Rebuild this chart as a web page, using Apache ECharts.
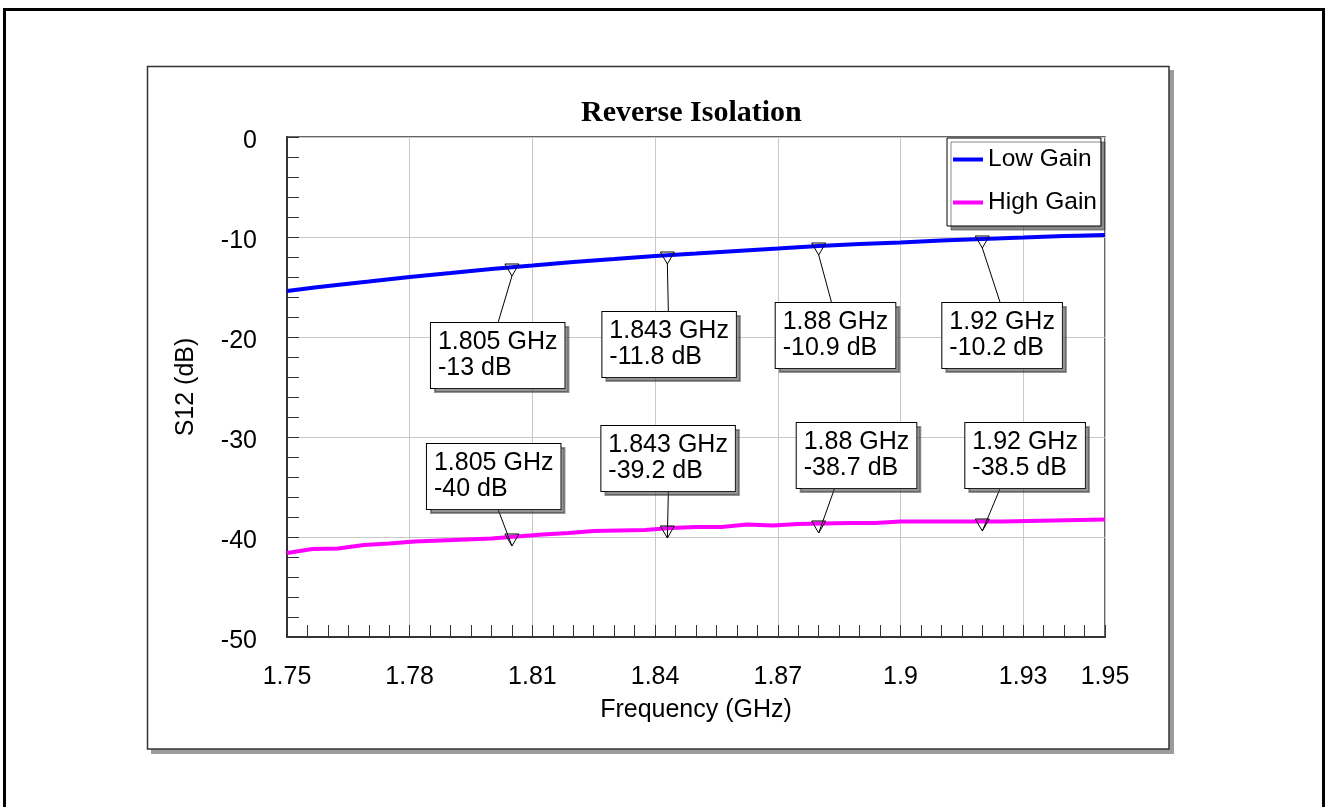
<!DOCTYPE html>
<html>
<head>
<meta charset="utf-8">
<script src="https://cdn.jsdelivr.net/npm/echarts@6/dist/echarts.min.js"></script>
<style>
html,body{margin:0;padding:0;background:#fff;}
#chart{width:1330px;height:807px;}
</style>
</head>
<body>
<div id="chart"></div>
<script>
// ---------------- data ----------------
const chartTitle = 'Reverse Isolation';
const xAxisName = 'Frequency (GHz)';
const yAxisName = 'S12 (dB)';
const seriesNames = ['Low Gain', 'High Gain'];

const xTickLabels = [1.75, 1.78, 1.81, 1.84, 1.87, 1.9, 1.93, 1.95];
const yTickLabels = [0, -10, -20, -30, -40, -50];

const lowGainFreq = [1.75, 1.76, 1.77, 1.78, 1.79, 1.80, 1.81, 1.82, 1.83, 1.84, 1.85,
  1.86, 1.87, 1.88, 1.89, 1.90, 1.91, 1.92, 1.93, 1.94, 1.95];
const lowGainDb = [-15.4, -14.9, -14.45, -14.0, -13.6, -13.2, -12.85, -12.5, -12.2, -11.9, -11.65,
  -11.4, -11.15, -10.9, -10.7, -10.55, -10.35, -10.2, -10.05, -9.9, -9.8];

const highGainFreq = [1.75, 1.7562, 1.7625, 1.7688, 1.775, 1.7812, 1.7875, 1.7938, 1.80, 1.8062,
  1.8125, 1.8188, 1.825, 1.8312, 1.8375, 1.8438, 1.85, 1.8562, 1.8625, 1.8688, 1.875, 1.8812,
  1.8875, 1.8938, 1.90, 1.9062, 1.9125, 1.9188, 1.925, 1.9312, 1.9375, 1.9438, 1.95];
const highGainDb = [-41.6, -41.2, -41.15, -40.8, -40.65, -40.45, -40.35, -40.25, -40.15, -39.95,
  -39.75, -39.6, -39.4, -39.35, -39.3, -39.1, -39.0, -39.0, -38.75, -38.85, -38.7, -38.65,
  -38.6, -38.6, -38.45, -38.45, -38.45, -38.45, -38.45, -38.4, -38.35, -38.3, -38.25];

const markerFreq = [1.805, 1.843, 1.88, 1.92];
const lowMarkerDb = [-13, -11.8, -10.9, -10.2];
const highMarkerDb = [-40, -39.2, -38.7, -38.5];

// ---------------- layout (pixel offsets of callout boxes, not data) ----------------
const lowCallout = [ {dx:-81, dy:56, lx:-14}, {dx:-65, dy:57, lx:1}, {dx:-43, dy:57, lx:13}, {dx:-40, dy:64, lx:18} ];
const highCallout = [ {dx:-85, dy:-93, lx:-14}, {dx:-66, dy:-103, lx:1}, {dx:-22, dy:-101, lx:16}, {dx:-17, dy:-99, lx:18} ];
const BOX_H = 65;

const FONT = "'Liberation Sans', Arial, sans-serif";

function zip(a, b) { return a.map((v, i) => [v, b[i]]); }

function calloutData(dbArr) {
  return markerFreq.map((f, i) => [f, dbArr[i]]);
}

function fmtNum(v) { return String(+(+v).toFixed(3)); }

function makeRender(layout) {
  return function (params, api) {
    const f = api.value(0), db = api.value(1);
    const p = api.coord([f, db]);
    const o = layout[params.dataIndex];
    const tip = [p[0], p[1] + 9];
    const endY = o.dy < 0 ? p[1] + o.dy + BOX_H : p[1] + o.dy;
    const text = fmtNum(f) + ' GHz\n' + fmtNum(db) + ' dB';
    return {
      type: 'group',
      children: [
        { type: 'line', shape: { x1: tip[0], y1: tip[1], x2: p[0] + o.lx, y2: endY },
          style: { stroke: '#000', lineWidth: 1 } },
        { type: 'text', x: p[0] + o.dx, y: p[1] + o.dy,
          style: { text: text, font: '25px ' + FONT, fill: '#000', lineHeight: 26,
            padding: [6, 7, 7, 7], backgroundColor: '#fff', borderColor: '#000', borderWidth: 1,
            shadowColor: 'rgba(60,60,60,0.55)', shadowOffsetX: 4, shadowOffsetY: 4, shadowBlur: 0,
            align: 'left', verticalAlign: 'top' } },
        { type: 'polygon', shape: { points: [[p[0] - 7, p[1] - 3], [p[0] + 7, p[1] - 3], [p[0], p[1] + 9]] },
          style: { fill: 'rgba(255,255,255,0)', stroke: '#000', lineWidth: 1 } }
      ]
    };
  };
}

const chart = echarts.init(document.getElementById('chart'), null, { renderer: 'canvas' });

const option = {
  backgroundColor: '#fff',
  animation: false,
  graphic: [
    { type: 'rect', z: -10, shape: { x: 4.5, y: 9.5, width: 1319, height: 900 },
      style: { fill: '#fff', stroke: '#000', lineWidth: 3 } },
    { type: 'rect', z: -9, shape: { x: 151, y: 70, width: 1023, height: 684 },
      style: { fill: '#9c9c9c' } },
    { type: 'rect', z: -8, shape: { x: 147.5, y: 66.5, width: 1021.5, height: 682.5 },
      style: { fill: '#fff', stroke: '#333', lineWidth: 1.5 } }
  ],
  title: {
    text: chartTitle,
    left: 581, top: 98, padding: 0,
    textStyle: { fontFamily: "'Liberation Serif', 'Times New Roman', serif", fontWeight: 'bold', fontSize: 30, color: '#000' }
  },
  legend: {
    data: seriesNames,
    orient: 'vertical',
    left: 947, top: 138,
    padding: [9, 4, 11, 6],
    itemGap: 18,
    icon: 'rect',
    itemWidth: 30, itemHeight: 4,
    backgroundColor: '#fff',
    borderColor: '#000', borderWidth: 1,
    shadowColor: 'rgba(60,60,60,0.6)', shadowOffsetX: 4, shadowOffsetY: 4, shadowBlur: 0,
    textStyle: { fontFamily: FONT, fontSize: 24.5, color: '#000' }
  },
  grid: {
    left: 287, top: 137, right: 225, bottom: 170,
    show: true, borderColor: '#333', borderWidth: 1.5, backgroundColor: 'transparent'
  },
  xAxis: [
    { // minor tick axis
      type: 'value', position: 'bottom', min: 1.75, max: 1.95, interval: 0.005,
      axisLine: { show: false, onZero: false }, axisLabel: { show: false }, splitLine: { show: false },
      axisTick: { show: true, inside: true, length: 12, lineStyle: { color: '#333', width: 1 } }
    },
    { // main axis
      type: 'value', position: 'bottom', min: 1.75, max: 1.95, interval: 0.03,
      name: xAxisName, nameLocation: 'middle', nameGap: 61,
      nameTextStyle: { fontFamily: FONT, fontSize: 25, color: '#000' },
      axisLine: { show: true, onZero: false, lineStyle: { color: '#333', width: 2 } },
      axisTick: { show: false },
      axisLabel: { fontFamily: FONT, fontSize: 25, color: '#000', margin: 28,
        formatter: v => xTickLabels.some(t => Math.abs(t - v) < 1e-6) ? fmtNum(v) : '' },
      splitLine: { show: true, lineStyle: { color: '#c8c8c8', width: 1 } }
    }
  ],
  yAxis: [
    {
      type: 'value', position: 'left', min: -50, max: 0, interval: 2,
      axisLine: { show: false, onZero: false }, axisLabel: { show: false }, splitLine: { show: false },
      axisTick: { show: true, inside: true, length: 12, lineStyle: { color: '#333', width: 1 } }
    },
    {
      type: 'value', position: 'left', min: -50, max: 0, interval: 10,
      name: yAxisName, nameLocation: 'middle', nameGap: 88,
      nameTextStyle: { fontFamily: FONT, fontSize: 25, color: '#000' },
      axisLine: { show: true, onZero: false, lineStyle: { color: '#333', width: 2 } },
      axisTick: { show: false },
      axisLabel: { fontFamily: FONT, fontSize: 25, color: '#000', margin: 30,
        verticalAlign: 'top', lineHeight: 9,
        formatter: v => yTickLabels.some(t => Math.abs(t - v) < 1e-6) ? fmtNum(v) : '' },
      splitLine: { show: true, lineStyle: { color: '#c8c8c8', width: 1 } }
    }
  ],
  series: [
    { name: seriesNames[0], type: 'line', xAxisIndex: 1, yAxisIndex: 1,
      data: zip(lowGainFreq, lowGainDb), showSymbol: false, symbol: 'none', smooth: 0.4,
      lineStyle: { color: '#0000ff', width: 4 }, itemStyle: { color: '#0000ff' }, z: 2 },
    { name: seriesNames[1], type: 'line', xAxisIndex: 1, yAxisIndex: 1,
      data: zip(highGainFreq, highGainDb), showSymbol: false, symbol: 'none', smooth: false,
      lineStyle: { color: '#ff00ff', width: 4 }, itemStyle: { color: '#ff00ff' }, z: 2 },
    { name: 'lowMarkers', type: 'custom', xAxisIndex: 1, yAxisIndex: 1, clip: false, z: 5,
      data: calloutData(lowMarkerDb), renderItem: makeRender(lowCallout) },
    { name: 'highMarkers', type: 'custom', xAxisIndex: 1, yAxisIndex: 1, clip: false, z: 5,
      data: calloutData(highMarkerDb), renderItem: makeRender(highCallout) }
  ]
};

chart.setOption(option);
</script>
</body>
</html>
